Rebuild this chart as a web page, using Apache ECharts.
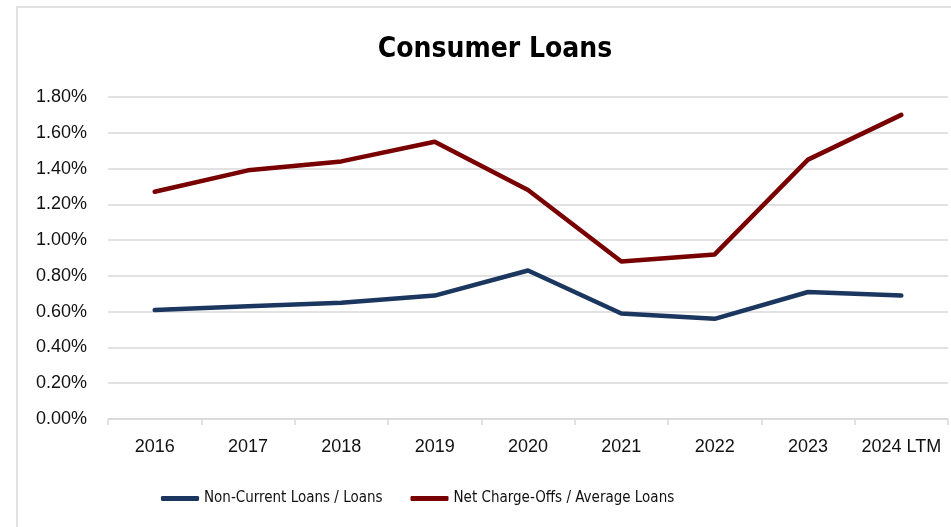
<!DOCTYPE html>
<html>
<head>
<meta charset="utf-8">
<script src="https://cdn.jsdelivr.net/npm/echarts@6/dist/echarts.min.js"></script>
<style>
  html, body { margin: 0; padding: 0; background: #fff; }
  #chart { width: 951px; height: 527px; }
</style>
</head>
<body>
<div id="chart"></div>
<script>
// Consumer loan credit quality ratios, in percent
const years = ['2016', '2017', '2018', '2019', '2020', '2021', '2022', '2023', '2024 LTM'];
const nonCurrentLoans = [0.61, 0.63, 0.65, 0.69, 0.83, 0.59, 0.56, 0.71, 0.69];
const netChargeOffs = [1.27, 1.39, 1.44, 1.55, 1.28, 0.88, 0.92, 1.45, 1.70];
const seriesNames = ['Non-Current Loans / Loans', 'Net Charge-Offs / Average Loans'];
const seriesColors = ['#1B365F', '#780000'];

const narrowFont = '"Liberation Sans Narrow", "DejaVu Sans Condensed", "Liberation Sans", sans-serif';
const axisFont = '"Liberation Sans", Arial, sans-serif';

const chart = echarts.init(document.getElementById('chart'), null, { renderer: 'canvas' });

const lineSeries = (name, data, color) => ({
  name: name,
  type: 'line',
  data: data,
  showSymbol: false,
  symbol: 'none',
  lineStyle: { color: color, width: 4.5, cap: 'round', join: 'round' },
  itemStyle: { color: color },
  animation: false
});

chart.setOption({
  backgroundColor: '#ffffff',
  animation: false,
  graphic: [{
    type: 'rect',
    shape: { x: 17, y: 7, width: 1000, height: 600 },
    style: { fill: 'none', stroke: '#d9d9d9', lineWidth: 1.5 },
    z: -1
  }],
  title: {
    text: 'Consumer Loans',
    left: 490,
    textAlign: 'center',
    top: 31,
    textStyle: { fontFamily: narrowFont, fontWeight: 'bold', fontSize: 28, color: '#000' }
  },
  legend: {
    data: seriesNames,
    left: 156,
    top: 486,
    itemWidth: 38,
    itemHeight: 5,
    itemGap: 28,
    icon: 'roundRect',
    textStyle: { fontFamily: narrowFont, fontSize: 15, color: '#111' }
  },
  grid: { left: 108, right: 3, top: 97, bottom: 108, containLabel: false },
  xAxis: {
    type: 'category',
    data: years,
    boundaryGap: true,
    axisLine: { lineStyle: { color: '#d9d9d9', width: 1.5 } },
    axisTick: { show: true, length: 6, alignWithLabel: false, lineStyle: { color: '#d9d9d9', width: 1.5 } },
    axisLabel: { fontFamily: axisFont, fontSize: 18, color: '#111', margin: 19, interval: 0 }
  },
  yAxis: {
    type: 'value',
    min: 0,
    max: 1.8,
    interval: 0.2,
    axisLine: { show: false },
    axisTick: { show: false },
    splitLine: { lineStyle: { color: '#d9d9d9', width: 1.5 } },
    axisLabel: {
      fontFamily: axisFont, fontSize: 18, color: '#111', margin: 21,
      formatter: v => v.toFixed(2) + '%'
    }
  },
  series: [
    lineSeries(seriesNames[0], nonCurrentLoans, seriesColors[0]),
    lineSeries(seriesNames[1], netChargeOffs, seriesColors[1])
  ]
});
</script>
</body>
</html>
